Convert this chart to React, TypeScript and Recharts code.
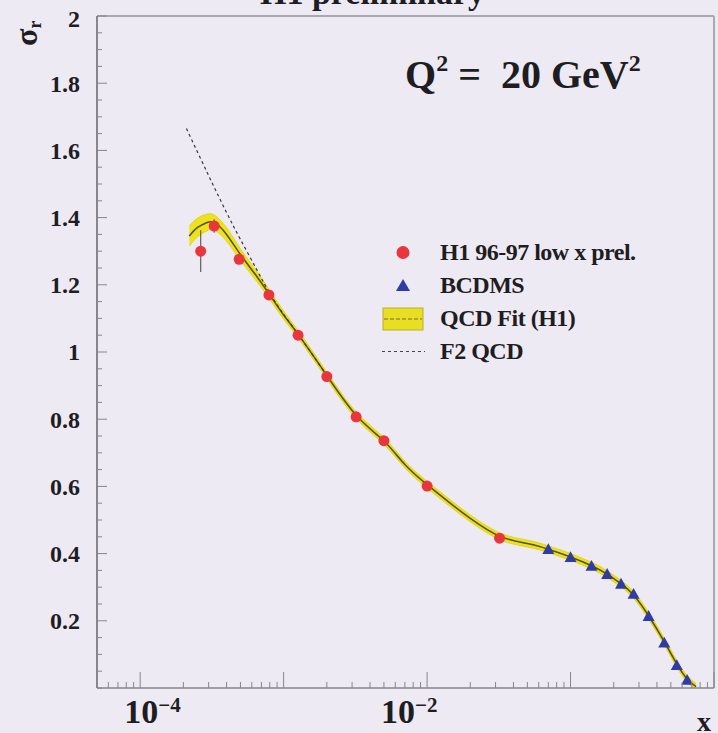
import React from 'react';
import {
  ComposedChart,
  Area,
  Line,
  Scatter,
  XAxis,
  YAxis,
  ErrorBar,
  ReferenceLine,
  Legend,
} from 'recharts';

const W = 718;
const H = 733;
const SERIF = '"Liberation Serif", "DejaVu Serif", serif';
const BG = '#eeeaf4';
const INK = '#1d1d22';
const AXIS = '#86868e';

// H1 96-97 low x (preliminary)
const h1X = [2.64e-4, 3.28e-4, 4.9e-4, 7.9e-4, 1.26e-3, 2.0e-3, 3.2e-3, 5.0e-3, 1.0e-2, 3.2e-2];
const h1Sigma = [1.3, 1.375, 1.276, 1.17, 1.05, 0.927, 0.807, 0.736, 0.601, 0.446];
const h1Err = [0.062, 0.02, 0.014, 0.012, 0.012, 0.012, 0.01, 0.01, 0.01, 0.012];

// BCDMS
const bcdmsX = [0.07, 0.1, 0.14, 0.18, 0.225, 0.275, 0.35, 0.45, 0.55, 0.65];
const bcdmsSigma = [0.413, 0.389, 0.363, 0.339, 0.31, 0.28, 0.214, 0.135, 0.068, 0.024];

// QCD fit (H1): central value and half-width of the band
const fitX = [
  2.2e-4, 2.5e-4, 2.9e-4, 3.3e-4, 4e-4, 5e-4, 6.5e-4, 8e-4, 1e-3, 1.3e-3,
  2e-3, 3.2e-3, 5e-3, 7e-3, 1e-2, 1.5e-2, 2e-2, 3.2e-2, 5e-2, 7e-2,
  0.1, 0.14, 0.18, 0.225, 0.275, 0.35, 0.45, 0.55, 0.65, 0.75,
];
const fitSigma = [
  1.345, 1.37, 1.385, 1.385, 1.35, 1.29, 1.225, 1.17, 1.11, 1.045,
  0.93, 0.812, 0.735, 0.665, 0.605, 0.545, 0.505, 0.452, 0.43, 0.413,
  0.39, 0.364, 0.339, 0.31, 0.277, 0.215, 0.138, 0.072, 0.027, 0.004,
];
const fitErr = [
  0.03, 0.028, 0.025, 0.022, 0.02, 0.017, 0.015, 0.013, 0.012, 0.011,
  0.01, 0.01, 0.01, 0.01, 0.01, 0.01, 0.01, 0.01, 0.01, 0.01,
  0.01, 0.01, 0.01, 0.01, 0.01, 0.01, 0.01, 0.01, 0.01, 0.01,
];

// F2 QCD
const f2X = [2.1e-4, 3e-4, 4e-4, 5e-4, 6.5e-4, 8e-4, 1e-3, 1.3e-3, 2e-3];
const f2Sigma = [1.665, 1.525, 1.415, 1.335, 1.245, 1.175, 1.112, 1.045, 0.93];

// axis ticks
const yLabelTicks = [0.2, 0.4, 0.6, 0.8, 1, 1.2, 1.4, 1.6, 1.8, 2];
const xDecades = [1e-4, 1e-3, 1e-2, 1e-1, 1];
const xLabelled = [1e-4, 1e-2];

const h1Data = h1X.map((x, i) => ({ x, y: h1Sigma[i], err: h1Err[i] }));
const bcdmsData = bcdmsX.map((x, i) => ({ x, y: bcdmsSigma[i] }));
const fitData = fitX.map((x, i) => ({
  x,
  y: fitSigma[i],
  band: [fitSigma[i] - fitErr[i], fitSigma[i] + fitErr[i]],
}));
const f2Data = f2X.map((x, i) => ({ x, y: f2Sigma[i] }));

const yTicks: number[] = [];
for (let k = 0; k <= 40; k++) yTicks.push(Math.round(k * 5) / 100);

const xTicks: number[] = [];
for (let m = 5; m <= 9; m++) xTicks.push(m * 1e-5);
xDecades.forEach((d) => {
  xTicks.push(d);
  if (d < 1) for (let m = 2; m <= 9; m++) xTicks.push(m * d);
});

const isLabelY = (v: number) => yLabelTicks.some((t) => Math.abs(t - v) < 1e-6);
const fmtY = (v: number) => (Number.isInteger(v) ? String(v) : v.toFixed(1));

const YTick = (props: any) => {
  const { x, y, payload } = props;
  const v = payload.value;
  const major = isLabelY(v);
  return (
    <g>
      <line x1={x} x2={x + (major ? 10 : 5)} y1={y} y2={y} stroke={AXIS} strokeWidth={1} />
      {major && (
        <text
          x={x - 17}
          y={v === 2 ? y + 3 : y}
          dy="0.35em"
          textAnchor="end"
          fontFamily={SERIF}
          fontWeight="bold"
          fontSize={24}
          fill={INK}
        >
          {fmtY(v)}
        </text>
      )}
    </g>
  );
};

// ROOT-style shift of the exponent labels
const xLabelShift: Record<string, number> = { '-4': -16, '-2': -46 };

const XTick = (props: any) => {
  const { x, y, payload } = props;
  const v = payload.value;
  const e = Math.round(Math.log10(v));
  const decade = Math.abs(Math.log10(v) - e) < 1e-6;
  const labelled = xLabelled.some((t) => Math.abs(t - v) / t < 1e-6);
  return (
    <g>
      <line x1={x} x2={x} y1={y} y2={y - (decade ? 16 : 6)} stroke={AXIS} strokeWidth={1} />
      {labelled && (
        <text
          x={x + (xLabelShift[String(e)] ?? -20)}
          y={y + 35}
          fontFamily={SERIF}
          fontWeight="bold"
          fontSize={34}
          fill={INK}
        >
          10
          <tspan dy={-11} fontSize={21}>
            {'\u2212' + Math.abs(e)}
          </tspan>
        </text>
      )}
    </g>
  );
};

const Dot = (props: any) => <circle cx={props.cx} cy={props.cy} r={5.5} fill="#e8363c" />;

const Tri = (props: any) => {
  const { cx, cy } = props;
  const s = 6;
  return <polygon points={`${cx},${cy - s} ${cx - s},${cy + s * 0.8} ${cx + s},${cy + s * 0.8}`} fill="#2f3ca6" />;
};

const legendRows = [
  { key: 'h1', label: 'H1 96-97 low x prel.' },
  { key: 'bcdms', label: 'BCDMS' },
  { key: 'fit', label: 'QCD Fit (H1)' },
  { key: 'f2', label: 'F2 QCD' },
];

const LegendIcon = ({ kind }: { kind: string }) => (
  <svg width={46} height={33}>
    {kind === 'h1' && <circle cx={23} cy={16.5} r={6.5} fill="#e8363c" />}
    {kind === 'bcdms' && <polygon points="23,10 16,22 30,22" fill="#2f3ca6" />}
    {kind === 'fit' && (
      <g>
        <rect x={3} y={6} width={40} height={22} fill="#e9df22" stroke="#b9ad30" strokeWidth={1} />
        <line x1={4} x2={42} y1={17} y2={17} stroke="#9c9438" strokeWidth={1.5} strokeDasharray="4 2" />
      </g>
    )}
    {kind === 'f2' && (
      <line x1={2} x2={45} y1={16.5} y2={16.5} stroke="#444" strokeWidth={1.2} strokeDasharray="3 3" />
    )}
  </svg>
);

const LegendBox = () => (
  <div style={{ fontFamily: SERIF, fontWeight: 'bold', fontSize: 24, color: INK }}>
    {legendRows.map((r) => (
      <div key={r.key} style={{ display: 'flex', alignItems: 'center', height: 33 }}>
        <LegendIcon kind={r.key} />
        <span style={{ marginLeft: 14, letterSpacing: -0.5, whiteSpace: 'pre' }}>{r.label}</span>
      </div>
    ))}
  </div>
);

export default function App() {
  return (
    <div style={{ position: 'absolute', left: 0, top: 0, width: W, height: H, background: BG, overflow: 'hidden' }}>
      <ComposedChart width={W} height={H} margin={{ top: 16, right: 4, bottom: 0, left: 0 }}>
        <XAxis
          dataKey="x"
          type="number"
          scale="log"
          domain={[5e-5, 1]}
          allowDataOverflow
          ticks={xTicks}
          interval={0}
          tickSize={0}
          tickMargin={0}
          tickLine={false}
          tick={(p: any) => <XTick {...p} />}
          height={45}
          axisLine={{ stroke: AXIS, strokeWidth: 1.5 }}
        />
        <YAxis
          type="number"
          domain={[0, 2]}
          allowDataOverflow
          ticks={yTicks}
          interval={0}
          tickSize={0}
          tickMargin={0}
          tickLine={false}
          tick={(p: any) => <YTick {...p} />}
          width={97}
          axisLine={{ stroke: AXIS, strokeWidth: 2 }}
        />
        <ReferenceLine y={2} stroke="#a9a9b0" strokeWidth={2} />
        <ReferenceLine x={1} stroke="#a9a9b0" strokeWidth={2} />
        <Area
          data={fitData}
          dataKey="band"
          type="natural"
          fill="#eee21c"
          fillOpacity={1}
          stroke="#e2d51a"
          strokeWidth={1}
          isAnimationActive={false}
        />
        <Line
          data={fitData}
          dataKey="y"
          type="natural"
          stroke="#55531f"
          strokeWidth={1.6}
          dot={false}
          isAnimationActive={false}
        />
        <Line
          data={f2Data}
          dataKey="y"
          type="natural"
          stroke="#3a3a3a"
          strokeWidth={1.2}
          strokeDasharray="3 3"
          dot={false}
          isAnimationActive={false}
        />
        <Scatter data={h1Data} dataKey="y" shape={(p: any) => <Dot {...p} />} isAnimationActive={false}>
          <ErrorBar dataKey="err" direction="y" width={0} stroke="#6a6a6a" strokeWidth={1.3} />
        </Scatter>
        <Scatter data={bcdmsData} dataKey="y" shape={(p: any) => <Tri {...p} />} isAnimationActive={false} />
        <Legend
          layout="horizontal"
          verticalAlign="middle"
          align="center"
          content={() => <LegendBox />}
          wrapperStyle={{ left: 380, top: 236, width: 330 }}
        />
      </ComposedChart>
      <svg
        width={W}
        height={H}
        style={{ position: 'absolute', left: 0, top: 0, pointerEvents: 'none' }}
        fontFamily={SERIF}
        fontWeight="bold"
        fill={INK}
      >
        <text x={260} y={4} fontSize={34}>
          H1 preliminary
        </text>
        <text x={405} y={88} fontSize={40} style={{ whiteSpace: 'pre' }}>
          Q
          <tspan dy={-17} fontSize={24}>
            2
          </tspan>
          <tspan dy={17} fontSize={40}>
            {' =  20 GeV'}
          </tspan>
          <tspan dy={-17} fontSize={24}>
            2
          </tspan>
        </text>
        <text transform="translate(37,46) rotate(-90)" fontSize={32}>
          σ
          <tspan dy={4} fontSize={18}>
            r
          </tspan>
        </text>
        <text x={697} y={731} fontSize={28}>
          x
        </text>
      </svg>
    </div>
  );
}
